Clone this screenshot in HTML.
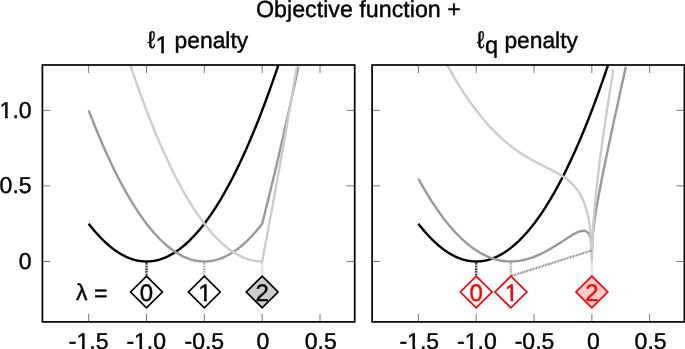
<!DOCTYPE html>
<html><head><meta charset="utf-8"><title>Objective function + penalty</title>
<style>html,body{margin:0;padding:0;background:#fff;}body{width:685px;height:349px;overflow:hidden;font-family:"Liberation Sans",sans-serif;}svg{display:block;will-change:transform}</style>
</head><body>
<svg width="685" height="349" viewBox="0 0 685 349" text-rendering="geometricPrecision">
<style>text{font-family:"Liberation Sans",sans-serif;fill:#000;stroke:#000;stroke-width:1.6px}text.r{fill:#f00;stroke:#f00}</style>
<defs><clipPath id="cl"><rect x="42.4" y="65.0" width="312.30" height="256.90"/></clipPath><clipPath id="cr"><rect x="372.1" y="65.0" width="312.30" height="256.90"/></clipPath></defs>
<rect width="685" height="349" fill="#fff"/>
<text transform="translate(358.40,17.00) scale(0.25)" font-size="93.0" text-anchor="middle" class="k">Objective function +</text>
<text transform="translate(147.60,47.80) scale(0.25)" font-size="96" text-anchor="start" class="k">ℓ</text>
<text transform="translate(155.50,52.70) scale(0.25)" font-size="96" text-anchor="start" class="k">1</text><path d="M156.20,50.21H161.19V54.50H156.20Z M164.01,50.21H168.62V54.50H164.01Z" fill="#fff"/>
<text transform="translate(174.60,47.80) scale(0.25)" font-size="91.2" text-anchor="start" class="k">penalty</text>
<text transform="translate(476.80,47.80) scale(0.25)" font-size="96" text-anchor="start" class="k">ℓ</text>
<text transform="translate(485.00,52.70) scale(0.25)" font-size="94.0" text-anchor="start" class="k">q</text>
<text transform="translate(504.40,47.80) scale(0.25)" font-size="91.2" text-anchor="start" class="k">penalty</text>
<g clip-path="url(#cl)"><path d="M88.67,223.67 L89.82,225.17 L90.98,226.64 L92.14,228.07 L93.29,229.48 L94.45,230.85 L95.61,232.20 L96.76,233.51 L97.92,234.80 L99.08,236.05 L100.23,237.27 L101.39,238.47 L102.55,239.63 L103.70,240.76 L104.86,241.87 L106.02,242.94 L107.17,243.98 L108.33,245.00 L109.49,245.98 L110.64,246.93 L111.80,247.85 L112.96,248.74 L114.11,249.61 L115.27,250.44 L116.43,251.24 L117.58,252.01 L118.74,252.75 L119.90,253.46 L121.05,254.14 L122.21,254.79 L123.37,255.41 L124.52,256.00 L125.68,256.56 L126.84,257.09 L127.99,257.58 L129.15,258.05 L130.31,258.49 L131.46,258.90 L132.62,259.28 L133.78,259.62 L134.93,259.94 L136.09,260.23 L137.25,260.49 L138.40,260.71 L139.56,260.91 L140.72,261.08 L141.87,261.21 L143.03,261.32 L144.19,261.39 L145.34,261.44 L146.50,261.45 L147.66,261.44 L148.81,261.39 L149.97,261.32 L151.13,261.21 L152.28,261.08 L153.44,260.91 L154.60,260.71 L155.75,260.49 L156.91,260.23 L158.07,259.94 L159.22,259.62 L160.38,259.28 L161.54,258.90 L162.69,258.49 L163.85,258.05 L165.01,257.58 L166.16,257.09 L167.32,256.56 L168.48,256.00 L169.63,255.41 L170.79,254.79 L171.95,254.14 L173.10,253.46 L174.26,252.75 L175.42,252.01 L176.57,251.24 L177.73,250.44 L178.89,249.61 L180.04,248.74 L181.20,247.85 L182.36,246.93 L183.51,245.98 L184.67,245.00 L185.83,243.98 L186.98,242.94 L188.14,241.87 L189.30,240.76 L190.45,239.63 L191.61,238.47 L192.77,237.27 L193.92,236.05 L195.08,234.80 L196.24,233.51 L197.39,232.20 L198.55,230.85 L199.71,229.48 L200.86,228.07 L202.02,226.64 L203.18,225.17 L204.33,223.67 L205.49,222.15 L206.65,220.59 L207.80,219.00 L208.96,217.39 L210.12,215.74 L211.27,214.06 L212.43,212.35 L213.59,210.62 L214.74,208.85 L215.90,207.05 L217.06,205.22 L218.21,203.36 L219.37,201.47 L220.53,199.56 L221.68,197.61 L222.84,195.63 L224.00,193.62 L225.15,191.58 L226.31,189.51 L227.47,187.41 L228.62,185.27 L229.78,183.11 L230.94,180.92 L232.09,178.70 L233.25,176.45 L234.41,174.17 L235.56,171.86 L236.72,169.51 L237.88,167.14 L239.03,164.74 L240.19,162.30 L241.35,159.84 L242.50,157.35 L243.66,154.82 L244.82,152.27 L245.97,149.69 L247.13,147.07 L248.29,144.43 L249.44,141.75 L250.60,139.05 L251.76,136.31 L252.91,133.55 L254.07,130.75 L255.23,127.93 L256.38,125.07 L257.54,122.18 L258.70,119.27 L259.85,116.32 L261.01,113.34 L262.17,110.34 L263.32,107.30 L264.48,104.23 L265.64,101.13 L266.79,98.00 L267.95,94.85 L269.11,91.66 L270.26,88.44 L271.42,85.19 L272.58,81.91 L273.73,78.60 L274.89,75.26 L276.05,71.89 L277.20,68.49 L278.36,65.06 L278.38,65.00" fill="none" stroke="#000" stroke-width="2.4" stroke-linejoin="round" stroke-linecap="butt"/>
<path d="M88.67,110.34 L89.82,113.34 L90.98,116.32 L92.14,119.27 L93.29,122.18 L94.45,125.07 L95.61,127.93 L96.76,130.75 L97.92,133.55 L99.08,136.31 L100.23,139.05 L101.39,141.75 L102.55,144.43 L103.70,147.07 L104.86,149.69 L106.02,152.27 L107.17,154.82 L108.33,157.35 L109.49,159.84 L110.64,162.30 L111.80,164.74 L112.96,167.14 L114.11,169.51 L115.27,171.86 L116.43,174.17 L117.58,176.45 L118.74,178.70 L119.90,180.92 L121.05,183.11 L122.21,185.27 L123.37,187.41 L124.52,189.51 L125.68,191.58 L126.84,193.62 L127.99,195.63 L129.15,197.61 L130.31,199.56 L131.46,201.47 L132.62,203.36 L133.78,205.22 L134.93,207.05 L136.09,208.85 L137.25,210.62 L138.40,212.35 L139.56,214.06 L140.72,215.74 L141.87,217.39 L143.03,219.00 L144.19,220.59 L145.34,222.15 L146.50,223.67 L147.66,225.17 L148.81,226.64 L149.97,228.07 L151.13,229.48 L152.28,230.85 L153.44,232.20 L154.60,233.51 L155.75,234.80 L156.91,236.05 L158.07,237.27 L159.22,238.47 L160.38,239.63 L161.54,240.76 L162.69,241.87 L163.85,242.94 L165.01,243.98 L166.16,245.00 L167.32,245.98 L168.48,246.93 L169.63,247.85 L170.79,248.74 L171.95,249.61 L173.10,250.44 L174.26,251.24 L175.42,252.01 L176.57,252.75 L177.73,253.46 L178.89,254.14 L180.04,254.79 L181.20,255.41 L182.36,256.00 L183.51,256.56 L184.67,257.09 L185.83,257.58 L186.98,258.05 L188.14,258.49 L189.30,258.90 L190.45,259.28 L191.61,259.62 L192.77,259.94 L193.92,260.23 L195.08,260.49 L196.24,260.71 L197.39,260.91 L198.55,261.08 L199.71,261.21 L200.86,261.32 L202.02,261.39 L203.18,261.44 L204.33,261.45 L205.49,261.44 L206.65,261.39 L207.80,261.32 L208.96,261.21 L210.12,261.08 L211.27,260.91 L212.43,260.71 L213.59,260.49 L214.74,260.23 L215.90,259.94 L217.06,259.62 L218.21,259.28 L219.37,258.90 L220.53,258.49 L221.68,258.05 L222.84,257.58 L224.00,257.09 L225.15,256.56 L226.31,256.00 L227.47,255.41 L228.62,254.79 L229.78,254.14 L230.94,253.46 L232.09,252.75 L233.25,252.01 L234.41,251.24 L235.56,250.44 L236.72,249.61 L237.88,248.74 L239.03,247.85 L240.19,246.93 L241.35,245.98 L242.50,245.00 L243.66,243.98 L244.82,242.94 L245.97,241.87 L247.13,240.76 L248.29,239.63 L249.44,238.47 L250.60,237.27 L251.76,236.05 L252.91,234.80 L254.07,233.51 L255.23,232.20 L256.38,230.85 L257.54,229.48 L258.70,228.07 L259.85,226.64 L261.01,225.17 L262.17,223.67 L263.32,219.12 L264.48,214.55 L265.64,209.94 L266.79,205.30 L267.95,200.63 L269.11,195.93 L270.26,191.20 L271.42,186.44 L272.58,181.65 L273.73,176.83 L274.89,171.98 L276.05,167.10 L277.20,162.18 L278.36,157.24 L279.52,152.27 L280.67,147.27 L281.83,142.24 L282.99,137.17 L284.14,132.08 L285.30,126.96 L286.46,121.81 L287.61,116.62 L288.77,111.41 L289.93,106.16 L291.08,100.89 L292.24,95.59 L293.40,90.25 L294.55,84.89 L295.71,79.49 L296.87,74.07 L298.02,68.61 L298.40,66.81" fill="none" stroke="#999" stroke-width="2.4" stroke-linejoin="round" stroke-linecap="butt"/>
<path d="M130.31,65.06 L131.46,68.49 L132.62,71.89 L133.78,75.26 L134.93,78.60 L136.09,81.91 L137.25,85.19 L138.40,88.44 L139.56,91.66 L140.72,94.85 L141.87,98.00 L143.03,101.13 L144.19,104.23 L145.34,107.30 L146.50,110.34 L147.66,113.34 L148.81,116.32 L149.97,119.27 L151.13,122.18 L152.28,125.07 L153.44,127.93 L154.60,130.75 L155.75,133.55 L156.91,136.31 L158.07,139.05 L159.22,141.75 L160.38,144.43 L161.54,147.07 L162.69,149.69 L163.85,152.27 L165.01,154.82 L166.16,157.35 L167.32,159.84 L168.48,162.30 L169.63,164.74 L170.79,167.14 L171.95,169.51 L173.10,171.86 L174.26,174.17 L175.42,176.45 L176.57,178.70 L177.73,180.92 L178.89,183.11 L180.04,185.27 L181.20,187.41 L182.36,189.51 L183.51,191.58 L184.67,193.62 L185.83,195.63 L186.98,197.61 L188.14,199.56 L189.30,201.47 L190.45,203.36 L191.61,205.22 L192.77,207.05 L193.92,208.85 L195.08,210.62 L196.24,212.35 L197.39,214.06 L198.55,215.74 L199.71,217.39 L200.86,219.00 L202.02,220.59 L203.18,222.15 L204.33,223.67 L205.49,225.17 L206.65,226.64 L207.80,228.07 L208.96,229.48 L210.12,230.85 L211.27,232.20 L212.43,233.51 L213.59,234.80 L214.74,236.05 L215.90,237.27 L217.06,238.47 L218.21,239.63 L219.37,240.76 L220.53,241.87 L221.68,242.94 L222.84,243.98 L224.00,245.00 L225.15,245.98 L226.31,246.93 L227.47,247.85 L228.62,248.74 L229.78,249.61 L230.94,250.44 L232.09,251.24 L233.25,252.01 L234.41,252.75 L235.56,253.46 L236.72,254.14 L237.88,254.79 L239.03,255.41 L240.19,256.00 L241.35,256.56 L242.50,257.09 L243.66,257.58 L244.82,258.05 L245.97,258.49 L247.13,258.90 L248.29,259.28 L249.44,259.62 L250.60,259.94 L251.76,260.23 L252.91,260.49 L254.07,260.71 L255.23,260.91 L256.38,261.08 L257.54,261.21 L258.70,261.32 L259.85,261.39 L261.01,261.44 L262.17,261.45 L263.32,255.39 L264.48,249.30 L265.64,243.18 L266.79,237.03 L267.95,230.85 L269.11,224.64 L270.26,218.40 L271.42,212.13 L272.58,205.83 L273.73,199.49 L274.89,193.13 L276.05,186.74 L277.20,180.32 L278.36,173.87 L279.52,167.38 L280.67,160.87 L281.83,154.33 L282.99,147.75 L284.14,141.15 L285.30,134.51 L286.46,127.85 L287.61,121.16 L288.77,114.43 L289.93,107.68 L291.08,100.89 L292.24,94.08 L293.40,87.23 L294.55,80.35 L295.71,73.45 L296.82,66.81" fill="none" stroke="#ccc" stroke-width="2.4" stroke-linejoin="round" stroke-linecap="butt"/></g>
<path d="M146.50,262.95 L146.50,276.10" stroke="#000" stroke-width="2.4" stroke-dasharray="0.8 0.8" fill="none"/>
<path d="M204.33,262.95 L204.33,276.10" stroke="#999" stroke-width="2.4" stroke-dasharray="0.8 0.8" fill="none"/>
<path d="M262.17,262.95 L262.17,276.10" stroke="#ccc" stroke-width="2.4" stroke-dasharray="0.8 0.8" fill="none"/>
<path d="M88.67,321.9 v-8 M88.67,65.0 v8" stroke="#777" stroke-width="1" fill="none"/>
<path d="M146.50,321.9 v-8 M146.50,65.0 v8" stroke="#777" stroke-width="1" fill="none"/>
<path d="M204.33,321.9 v-8 M204.33,65.0 v8" stroke="#777" stroke-width="1" fill="none"/>
<path d="M262.17,321.9 v-8 M262.17,65.0 v8" stroke="#777" stroke-width="1" fill="none"/>
<path d="M320.00,321.9 v-8 M320.00,65.0 v8" stroke="#777" stroke-width="1" fill="none"/>
<path d="M42.4,261.45 h8 M354.7,261.45 h-8" stroke="#777" stroke-width="1" fill="none"/>
<path d="M42.4,185.89 h8 M354.7,185.89 h-8" stroke="#777" stroke-width="1" fill="none"/>
<path d="M42.4,110.34 h8 M354.7,110.34 h-8" stroke="#777" stroke-width="1" fill="none"/>
<rect x="42.4" y="65.0" width="312.30" height="256.90" fill="none" stroke="#000" stroke-width="1.7"/>
<text transform="translate(88.67,349.00) scale(0.25)" font-size="92" text-anchor="middle" class="k">-1.5</text><path d="M77.18,346.58H81.94V350.80H77.18Z M84.68,346.58H89.09V350.80H84.68Z" fill="#fff"/>
<text transform="translate(146.20,349.00) scale(0.25)" font-size="92" text-anchor="middle" class="k">-1.0</text><path d="M134.72,346.58H139.48V350.80H134.72Z M142.21,346.58H146.62V350.80H142.21Z" fill="#fff"/>
<text transform="translate(204.33,349.00) scale(0.25)" font-size="92" text-anchor="middle" class="k">-0.5</text>
<text transform="translate(262.87,349.00) scale(0.25)" font-size="92" text-anchor="middle" class="k">0</text>
<text transform="translate(320.80,349.00) scale(0.25)" font-size="92" text-anchor="middle" class="k">0.5</text>
<text transform="translate(31.60,268.65) scale(0.25)" font-size="92" text-anchor="end" class="k">0</text>
<text transform="translate(31.60,193.09) scale(0.25)" font-size="92" text-anchor="end" class="k">0.5</text>
<text transform="translate(31.60,117.54) scale(0.25)" font-size="92" text-anchor="end" class="k">1.0</text><path d="M0.30,115.12H5.06V119.34H0.30Z M7.80,115.12H12.21V119.34H7.80Z" fill="#fff"/>
<text transform="translate(76.00,299.50) scale(0.25)" font-size="92" text-anchor="start" class="k">λ</text>
<text transform="translate(93.89,301.20) scale(0.25)" font-size="92" text-anchor="start" class="k">=</text>
<path d="M146.50,276.10 L162.40,292.00 L146.50,307.90 L130.60,292.00 Z" fill="#fff"/><text transform="translate(146.50,300.50) scale(0.25)" font-size="96" text-anchor="middle" class="k">0</text><path d="M146.50,276.10 L162.40,292.00 L146.50,307.90 L130.60,292.00 Z" fill="none" stroke="#000" stroke-width="1.7" stroke-linejoin="miter"/>
<path d="M204.33,276.10 L220.23,292.00 L204.33,307.90 L188.43,292.00 Z" fill="#fff"/><text transform="translate(204.93,300.50) scale(0.25)" font-size="96" text-anchor="middle" class="k">1</text><path d="M198.96,298.01H203.95V302.30H198.96Z M206.77,298.01H211.39V302.30H206.77Z" fill="#fff"/><path d="M204.33,276.10 L220.23,292.00 L204.33,307.90 L188.43,292.00 Z" fill="none" stroke="#000" stroke-width="1.7" stroke-linejoin="miter"/>
<path d="M262.17,276.10 L278.07,292.00 L262.17,307.90 L246.27,292.00 Z" fill="#ccc"/><text transform="translate(262.17,300.50) scale(0.25)" font-size="96" text-anchor="middle" class="k">2</text><path d="M262.17,276.10 L278.07,292.00 L262.17,307.90 L246.27,292.00 Z" fill="none" stroke="#000" stroke-width="1.7" stroke-linejoin="miter"/>
<g clip-path="url(#cr)"><path d="M418.37,223.67 L419.52,225.17 L420.68,226.64 L421.84,228.07 L422.99,229.48 L424.15,230.85 L425.31,232.20 L426.46,233.51 L427.62,234.80 L428.78,236.05 L429.93,237.27 L431.09,238.47 L432.25,239.63 L433.40,240.76 L434.56,241.87 L435.72,242.94 L436.87,243.98 L438.03,245.00 L439.19,245.98 L440.34,246.93 L441.50,247.85 L442.66,248.74 L443.81,249.61 L444.97,250.44 L446.13,251.24 L447.28,252.01 L448.44,252.75 L449.60,253.46 L450.75,254.14 L451.91,254.79 L453.07,255.41 L454.22,256.00 L455.38,256.56 L456.54,257.09 L457.69,257.58 L458.85,258.05 L460.01,258.49 L461.16,258.90 L462.32,259.28 L463.48,259.62 L464.63,259.94 L465.79,260.23 L466.95,260.49 L468.10,260.71 L469.26,260.91 L470.42,261.08 L471.57,261.21 L472.73,261.32 L473.89,261.39 L475.04,261.44 L476.20,261.45 L477.36,261.44 L478.51,261.39 L479.67,261.32 L480.83,261.21 L481.98,261.08 L483.14,260.91 L484.30,260.71 L485.45,260.49 L486.61,260.23 L487.77,259.94 L488.92,259.62 L490.08,259.28 L491.24,258.90 L492.39,258.49 L493.55,258.05 L494.71,257.58 L495.86,257.09 L497.02,256.56 L498.18,256.00 L499.33,255.41 L500.49,254.79 L501.65,254.14 L502.80,253.46 L503.96,252.75 L505.12,252.01 L506.27,251.24 L507.43,250.44 L508.59,249.61 L509.74,248.74 L510.90,247.85 L512.06,246.93 L513.21,245.98 L514.37,245.00 L515.53,243.98 L516.68,242.94 L517.84,241.87 L519.00,240.76 L520.15,239.63 L521.31,238.47 L522.47,237.27 L523.62,236.05 L524.78,234.80 L525.94,233.51 L527.09,232.20 L528.25,230.85 L529.41,229.48 L530.56,228.07 L531.72,226.64 L532.88,225.17 L534.03,223.67 L535.19,222.15 L536.35,220.59 L537.50,219.00 L538.66,217.39 L539.82,215.74 L540.97,214.06 L542.13,212.35 L543.29,210.62 L544.44,208.85 L545.60,207.05 L546.76,205.22 L547.91,203.36 L549.07,201.47 L550.23,199.56 L551.38,197.61 L552.54,195.63 L553.70,193.62 L554.85,191.58 L556.01,189.51 L557.17,187.41 L558.32,185.27 L559.48,183.11 L560.64,180.92 L561.79,178.70 L562.95,176.45 L564.11,174.17 L565.26,171.86 L566.42,169.51 L567.58,167.14 L568.73,164.74 L569.89,162.30 L571.05,159.84 L572.20,157.35 L573.36,154.82 L574.52,152.27 L575.67,149.69 L576.83,147.07 L577.99,144.43 L579.14,141.75 L580.30,139.05 L581.46,136.31 L582.61,133.55 L583.77,130.75 L584.93,127.93 L586.08,125.07 L587.24,122.18 L588.40,119.27 L589.55,116.32 L590.71,113.34 L591.87,110.34 L593.02,107.30 L594.18,104.23 L595.34,101.13 L596.49,98.00 L597.65,94.85 L598.81,91.66 L599.96,88.44 L601.12,85.19 L602.28,81.91 L603.43,78.60 L604.59,75.26 L605.75,71.89 L606.90,68.49 L608.06,65.06 L608.08,65.00" fill="none" stroke="#000" stroke-width="2.4" stroke-linejoin="round" stroke-linecap="butt"/>
<path d="M418.37,178.63 L419.52,180.74 L420.68,182.83 L421.84,184.89 L422.99,186.91 L424.15,188.92 L425.31,190.89 L426.46,192.84 L427.62,194.75 L428.78,196.64 L429.93,198.50 L431.09,200.34 L432.25,202.14 L433.40,203.92 L434.56,205.67 L435.72,207.39 L436.87,209.09 L438.03,210.75 L439.19,212.39 L440.34,214.00 L441.50,215.59 L442.66,217.14 L443.81,218.67 L444.97,220.17 L446.13,221.64 L447.28,223.09 L448.44,224.51 L449.60,225.90 L450.75,227.26 L451.91,228.59 L453.07,229.90 L454.22,231.18 L455.38,232.44 L456.54,233.66 L457.69,234.86 L458.85,236.03 L460.01,237.18 L461.16,238.29 L462.32,239.38 L463.48,240.45 L464.63,241.48 L465.79,242.49 L466.95,243.47 L468.10,244.43 L469.26,245.36 L470.42,246.26 L471.57,247.14 L472.73,247.98 L473.89,248.81 L475.04,249.60 L476.20,250.37 L477.36,251.11 L478.51,251.83 L479.67,252.52 L480.83,253.18 L481.98,253.82 L483.14,254.43 L484.30,255.01 L485.45,255.57 L486.61,256.11 L487.77,256.61 L488.92,257.09 L490.08,257.55 L491.24,257.98 L492.39,258.38 L493.55,258.76 L494.71,259.12 L495.86,259.45 L497.02,259.75 L498.18,260.03 L499.33,260.28 L500.49,260.51 L501.65,260.71 L502.80,260.89 L503.96,261.04 L505.12,261.17 L506.27,261.28 L507.43,261.36 L508.59,261.41 L509.74,261.44 L510.90,261.45 L512.06,261.44 L513.21,261.40 L514.37,261.34 L515.53,261.25 L516.68,261.14 L517.84,261.01 L519.00,260.85 L520.15,260.68 L521.31,260.48 L522.47,260.25 L523.62,260.01 L524.78,259.74 L525.94,259.45 L527.09,259.15 L528.25,258.81 L529.41,258.46 L530.56,258.09 L531.72,257.70 L532.88,257.28 L534.03,256.85 L535.19,256.40 L536.35,255.93 L537.50,255.44 L538.66,254.93 L539.82,254.40 L540.97,253.86 L542.13,253.30 L543.29,252.72 L544.44,252.12 L545.60,251.51 L546.76,250.88 L547.91,250.24 L549.07,249.59 L550.23,248.92 L551.38,248.24 L552.54,247.54 L553.70,246.84 L554.85,246.13 L556.01,245.40 L557.17,244.67 L558.32,243.93 L559.48,243.18 L560.64,242.43 L561.79,241.68 L562.95,240.93 L564.11,240.17 L565.26,239.42 L566.42,238.67 L567.58,237.92 L568.73,237.19 L569.89,236.47 L571.05,235.76 L572.20,235.08 L573.36,234.41 L574.52,233.78 L575.67,233.18 L576.83,232.62 L577.99,232.11 L579.14,231.67 L580.30,231.29 L581.46,231.01 L582.61,230.84 L583.77,230.80 L584.93,230.94 L586.08,231.31 L587.24,231.99 L588.40,233.13 L589.55,234.98 L590.71,238.27 L591.87,250.37 L593.02,232.22 L594.18,222.89 L595.34,214.99 L596.49,207.82 L597.65,201.09 L598.81,194.68 L599.96,188.49 L601.12,182.48 L602.28,176.61 L603.43,170.85 L604.59,165.18 L605.75,159.58 L606.90,154.04 L608.06,148.55 L609.22,143.11 L610.37,137.70 L611.53,132.32 L612.69,126.96 L613.84,121.62 L615.00,116.30 L616.16,110.99 L617.31,105.68 L618.47,100.39 L619.63,95.10 L620.78,89.81 L621.94,84.52 L623.10,79.23 L624.25,73.93 L625.41,68.63 L625.81,66.81" fill="none" stroke="#999" stroke-width="2.4" stroke-linejoin="round" stroke-linecap="butt"/>
<path d="M447.28,65.22 L448.44,67.31 L449.60,69.38 L450.75,71.43 L451.91,73.45 L453.07,75.44 L454.22,77.42 L455.38,79.36 L456.54,81.29 L457.69,83.18 L458.85,85.06 L460.01,86.91 L461.16,88.74 L462.32,90.54 L463.48,92.32 L464.63,94.07 L465.79,95.80 L466.95,97.51 L468.10,99.20 L469.26,100.86 L470.42,102.49 L471.57,104.11 L472.73,105.70 L473.89,107.27 L475.04,108.81 L476.20,110.34 L477.36,111.84 L478.51,113.31 L479.67,114.77 L480.83,116.20 L481.98,117.61 L483.14,119.00 L484.30,120.36 L485.45,121.71 L486.61,123.03 L487.77,124.33 L488.92,125.61 L490.08,126.87 L491.24,128.11 L492.39,129.33 L493.55,130.52 L494.71,131.70 L495.86,132.85 L497.02,133.99 L498.18,135.10 L499.33,136.20 L500.49,137.27 L501.65,138.33 L502.80,139.37 L503.96,140.38 L505.12,141.38 L506.27,142.36 L507.43,143.32 L508.59,144.27 L509.74,145.19 L510.90,146.10 L512.06,146.99 L513.21,147.87 L514.37,148.72 L515.53,149.56 L516.68,150.39 L517.84,151.20 L519.00,151.99 L520.15,152.77 L521.31,153.53 L522.47,154.28 L523.62,155.02 L524.78,155.74 L525.94,156.45 L527.09,157.14 L528.25,157.83 L529.41,158.50 L530.56,159.16 L531.72,159.81 L532.88,160.45 L534.03,161.08 L535.19,161.70 L536.35,162.31 L537.50,162.92 L538.66,163.52 L539.82,164.11 L540.97,164.70 L542.13,165.28 L543.29,165.86 L544.44,166.44 L545.60,167.02 L546.76,167.59 L547.91,168.17 L549.07,168.75 L550.23,169.33 L551.38,169.92 L552.54,170.51 L553.70,171.11 L554.85,171.72 L556.01,172.35 L557.17,172.98 L558.32,173.63 L559.48,174.30 L560.64,174.99 L561.79,175.71 L562.95,176.45 L564.11,177.22 L565.26,178.03 L566.42,178.87 L567.58,179.76 L568.73,180.69 L569.89,181.68 L571.05,182.73 L572.20,183.85 L573.36,185.05 L574.52,186.33 L575.67,187.72 L576.83,189.22 L577.99,190.85 L579.14,192.63 L580.30,194.59 L581.46,196.76 L582.61,199.18 L583.77,201.90 L584.93,205.01 L586.08,208.61 L587.24,212.85 L588.40,218.04 L589.55,224.69 L590.71,234.24 L591.87,261.45 L593.02,228.19 L594.18,212.61 L595.34,199.90 L596.49,188.67 L597.65,178.38 L598.81,168.74 L599.96,159.59 L601.12,150.82 L602.28,142.36 L603.43,134.14 L604.59,126.14 L605.75,118.31 L606.90,110.64 L608.06,103.09 L609.22,95.66 L610.37,88.33 L611.53,81.09 L612.69,73.93 L613.45,69.23" fill="none" stroke="#ccc" stroke-width="2.4" stroke-linejoin="round" stroke-linecap="butt"/></g>
<path d="M476.20,262.95 L476.20,276.10" stroke="#000" stroke-width="2.4" stroke-dasharray="0.8 0.8" fill="none"/>
<path d="M510.90,262.95 L510.90,276.10" stroke="#999" stroke-width="2.4" stroke-dasharray="0.8 0.8" fill="none"/>
<path d="M591.87,262.95 L591.87,276.10" stroke="#ccc" stroke-width="2.4" stroke-dasharray="0.8 0.8" fill="none"/>
<path d="M510.90,276.10 L591.87,250.42" stroke="#7a7a7a" stroke-width="2.2" stroke-dasharray="0.85 0.7" fill="none"/>
<path d="M418.37,321.9 v-8 M418.37,65.0 v8" stroke="#777" stroke-width="1" fill="none"/>
<path d="M476.20,321.9 v-8 M476.20,65.0 v8" stroke="#777" stroke-width="1" fill="none"/>
<path d="M534.03,321.9 v-8 M534.03,65.0 v8" stroke="#777" stroke-width="1" fill="none"/>
<path d="M591.87,321.9 v-8 M591.87,65.0 v8" stroke="#777" stroke-width="1" fill="none"/>
<path d="M649.70,321.9 v-8 M649.70,65.0 v8" stroke="#777" stroke-width="1" fill="none"/>
<path d="M372.1,261.45 h8 M684.4,261.45 h-8" stroke="#777" stroke-width="1" fill="none"/>
<path d="M372.1,185.89 h8 M684.4,185.89 h-8" stroke="#777" stroke-width="1" fill="none"/>
<path d="M372.1,110.34 h8 M684.4,110.34 h-8" stroke="#777" stroke-width="1" fill="none"/>
<rect x="372.1" y="65.0" width="312.30" height="256.90" fill="none" stroke="#000" stroke-width="1.7"/>
<text transform="translate(419.27,349.00) scale(0.25)" font-size="92" text-anchor="middle" class="k">-1.5</text><path d="M407.78,346.58H412.54V350.80H407.78Z M415.28,346.58H419.69V350.80H415.28Z" fill="#fff"/>
<text transform="translate(476.90,349.00) scale(0.25)" font-size="92" text-anchor="middle" class="k">-1.0</text><path d="M465.42,346.58H470.18V350.80H465.42Z M472.91,346.58H477.32V350.80H472.91Z" fill="#fff"/>
<text transform="translate(534.53,349.00) scale(0.25)" font-size="92" text-anchor="middle" class="k">-0.5</text>
<text transform="translate(593.37,349.00) scale(0.25)" font-size="92" text-anchor="middle" class="k">0</text>
<text transform="translate(650.60,349.00) scale(0.25)" font-size="92" text-anchor="middle" class="k">0.5</text>
<path d="M476.20,276.10 L492.10,292.00 L476.20,307.90 L460.30,292.00 Z" fill="#fff"/><text transform="translate(476.20,300.50) scale(0.25)" font-size="96" text-anchor="middle" class="r">0</text><path d="M476.20,276.10 L492.10,292.00 L476.20,307.90 L460.30,292.00 Z" fill="none" stroke="#f00" stroke-width="1.7" stroke-linejoin="miter"/>
<path d="M510.90,276.10 L526.80,292.00 L510.90,307.90 L495.00,292.00 Z" fill="#fff"/><text transform="translate(511.50,300.50) scale(0.25)" font-size="96" text-anchor="middle" class="r">1</text><path d="M505.53,298.01H510.51V302.30H505.53Z M513.33,298.01H517.95V302.30H513.33Z" fill="#fff"/><path d="M510.90,276.10 L526.80,292.00 L510.90,307.90 L495.00,292.00 Z" fill="none" stroke="#f00" stroke-width="1.7" stroke-linejoin="miter"/>
<path d="M591.87,276.10 L607.77,292.00 L591.87,307.90 L575.97,292.00 Z" fill="#fcc"/><text transform="translate(591.87,300.50) scale(0.25)" font-size="96" text-anchor="middle" class="r">2</text><path d="M591.87,276.10 L607.77,292.00 L591.87,307.90 L575.97,292.00 Z" fill="none" stroke="#f00" stroke-width="1.7" stroke-linejoin="miter"/>
</svg>
</body></html>
